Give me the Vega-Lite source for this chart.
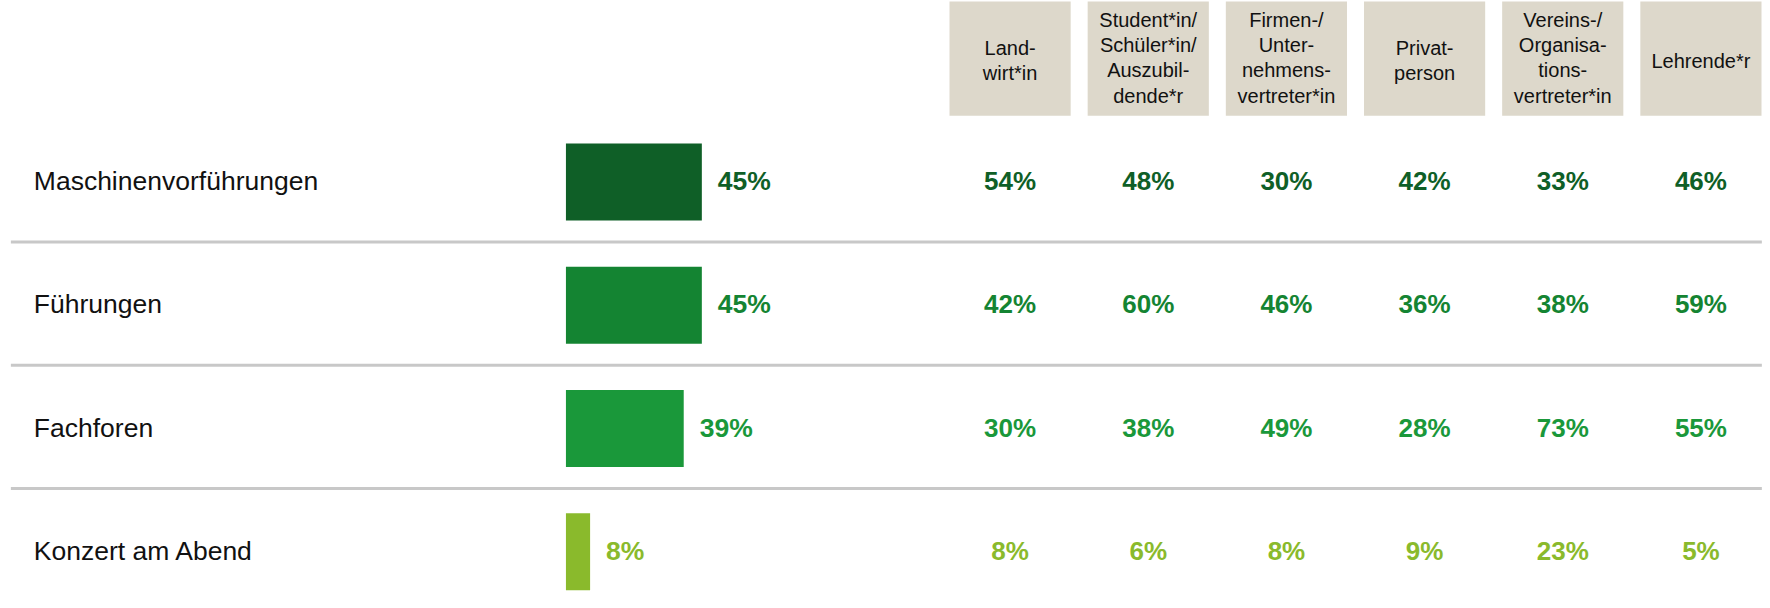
{
  "$schema": "https://vega.github.io/schema/vega-lite/v6.json",
  "width": 1770,
  "height": 608,
  "autosize": {"type": "fit", "contains": "padding"},
  "padding": 0,
  "background": "white",
  "config": {"view": {"stroke": null}, "font": "Liberation Sans"},
  "datasets": {
    "gesamt": [
      {"zeile": "Maschinenvorführungen", "wert": 45},
      {"zeile": "Führungen", "wert": 45},
      {"zeile": "Fachforen", "wert": 39},
      {"zeile": "Konzert am Abend", "wert": 8}
    ],
    "trenner": [
      {"zeile": "Maschinenvorführungen"},
      {"zeile": "Führungen"},
      {"zeile": "Fachforen"}
    ],
    "kopf": [
      {"zeile": "Kopf", "gruppe": "Landwirt", "label": "Land-\nwirt*in"},
      {"zeile": "Kopf", "gruppe": "Student", "label": "Student*in/\nSchüler*in/\nAuszubil-\ndende*r"},
      {"zeile": "Kopf", "gruppe": "Firmen", "label": "Firmen-/\nUnter-\nnehmens-\nvertreter*in"},
      {"zeile": "Kopf", "gruppe": "Privat", "label": "Privat-\nperson"},
      {"zeile": "Kopf", "gruppe": "Vereins", "label": "Vereins-/\nOrganisa-\ntions-\nvertreter*in"},
      {"zeile": "Kopf", "gruppe": "Lehrende", "label": "Lehrende*r"}
    ],
    "gruppen": [
      {"zeile": "Maschinenvorführungen", "gruppe": "Landwirt", "wert": 54},
      {"zeile": "Maschinenvorführungen", "gruppe": "Student", "wert": 48},
      {"zeile": "Maschinenvorführungen", "gruppe": "Firmen", "wert": 30},
      {"zeile": "Maschinenvorführungen", "gruppe": "Privat", "wert": 42},
      {"zeile": "Maschinenvorführungen", "gruppe": "Vereins", "wert": 33},
      {"zeile": "Maschinenvorführungen", "gruppe": "Lehrende", "wert": 46},
      {"zeile": "Führungen", "gruppe": "Landwirt", "wert": 42},
      {"zeile": "Führungen", "gruppe": "Student", "wert": 60},
      {"zeile": "Führungen", "gruppe": "Firmen", "wert": 46},
      {"zeile": "Führungen", "gruppe": "Privat", "wert": 36},
      {"zeile": "Führungen", "gruppe": "Vereins", "wert": 38},
      {"zeile": "Führungen", "gruppe": "Lehrende", "wert": 59},
      {"zeile": "Fachforen", "gruppe": "Landwirt", "wert": 30},
      {"zeile": "Fachforen", "gruppe": "Student", "wert": 38},
      {"zeile": "Fachforen", "gruppe": "Firmen", "wert": 49},
      {"zeile": "Fachforen", "gruppe": "Privat", "wert": 28},
      {"zeile": "Fachforen", "gruppe": "Vereins", "wert": 73},
      {"zeile": "Fachforen", "gruppe": "Lehrende", "wert": 55},
      {"zeile": "Konzert am Abend", "gruppe": "Landwirt", "wert": 8},
      {"zeile": "Konzert am Abend", "gruppe": "Student", "wert": 6},
      {"zeile": "Konzert am Abend", "gruppe": "Firmen", "wert": 8},
      {"zeile": "Konzert am Abend", "gruppe": "Privat", "wert": 9},
      {"zeile": "Konzert am Abend", "gruppe": "Vereins", "wert": 23},
      {"zeile": "Konzert am Abend", "gruppe": "Lehrende", "wert": 5}
    ]
  },
  "resolve": {"scale": {"x": "independent"}},
  "layer": [
    {
      "layer": [
        {
          "data": {"name": "trenner"},
          "mark": {"type": "rule", "stroke": "#C8C8C8", "strokeWidth": 3},
          "encoding": {
            "y": {"field": "zeile", "type": "nominal", "bandPosition": 1.026, "axis": null,
              "scale": {"domain": ["Kopf", "Maschinenvorführungen", "Führungen", "Fachforen", "Konzert am Abend"], "range": [-3, 613.5], "paddingInner": 0.075, "paddingOuter": 0.0375}},
            "x": {"datum": -183.8, "type": "quantitative", "axis": null, "scale": {"domain": [-187.4, 398.7], "nice": false, "zero": false}},
            "x2": {"datum": 396.0}
          }
        },
        {
          "data": {"name": "gesamt"},
          "mark": {"type": "bar", "height": 77, "orient": "horizontal"},
          "encoding": {
            "y": {"field": "zeile", "type": "nominal", "axis": null},
            "x": {"field": "wert", "type": "quantitative", "axis": null},
            "color": {"field": "zeile", "type": "nominal", "legend": null,
              "scale": {"domain": ["Maschinenvorführungen", "Führungen", "Fachforen", "Konzert am Abend"], "range": ["#0F5F27", "#148432", "#1A983A", "#8ABA2C"]}}
          }
        },
        {
          "data": {"name": "gesamt"},
          "transform": [{"calculate": "datum.wert + '%'", "as": "txt"}],
          "mark": {"type": "text", "align": "left", "baseline": "middle", "dx": 16, "fontSize": 26.5, "fontWeight": "bold"},
          "encoding": {
            "y": {"field": "zeile", "type": "nominal", "axis": null},
            "x": {"field": "wert", "type": "quantitative", "axis": null},
            "text": {"field": "txt"},
            "color": {"field": "zeile", "type": "nominal", "legend": null}
          }
        },
        {
          "data": {"name": "gesamt"},
          "mark": {"type": "text", "align": "left", "baseline": "middle", "fontSize": 26.5, "color": "#111111"},
          "encoding": {
            "y": {"field": "zeile", "type": "nominal", "axis": null},
            "x": {"datum": -176.2, "type": "quantitative"},
            "text": {"field": "zeile"}
          }
        }
      ]
    },
    {
      "layer": [
        {
          "data": {"name": "kopf"},
          "mark": {"type": "rect", "color": "#DDD8CB"},
          "encoding": {
            "y": {"field": "zeile", "type": "nominal", "axis": null},
            "x": {"field": "gruppe", "type": "nominal", "axis": null,
              "scale": {"domain": ["Landwirt", "Student", "Firmen", "Privat", "Vereins", "Lehrende"], "range": [949.5, 1761.5], "paddingInner": 0.123, "paddingOuter": 0}}
          }
        },
        {
          "data": {"name": "kopf"},
          "transform": [{"filter": "length(split(datum.label, '\\n')) == 1"}],
          "mark": {"type": "text", "align": "center", "baseline": "middle", "fontSize": 20, "dy": 3, "color": "#111111"},
          "encoding": {
            "y": {"field": "zeile", "type": "nominal", "axis": null},
            "x": {"field": "gruppe", "type": "nominal", "axis": null},
            "text": {"field": "label"}
          }
        },
        {
          "data": {"name": "kopf"},
          "transform": [{"filter": "length(split(datum.label, '\\n')) == 2"}],
          "mark": {"type": "text", "align": "center", "baseline": "middle", "fontSize": 20, "lineHeight": 25.3, "lineBreak": "\n", "dy": -9.5, "color": "#111111"},
          "encoding": {
            "y": {"field": "zeile", "type": "nominal", "axis": null},
            "x": {"field": "gruppe", "type": "nominal", "axis": null},
            "text": {"field": "label"}
          }
        },
        {
          "data": {"name": "kopf"},
          "transform": [{"filter": "length(split(datum.label, '\\n')) == 4"}],
          "mark": {"type": "text", "align": "center", "baseline": "middle", "fontSize": 20, "lineHeight": 25.3, "lineBreak": "\n", "dy": -38, "color": "#111111"},
          "encoding": {
            "y": {"field": "zeile", "type": "nominal", "axis": null},
            "x": {"field": "gruppe", "type": "nominal", "axis": null},
            "text": {"field": "label"}
          }
        },
        {
          "data": {"name": "gruppen"},
          "transform": [{"calculate": "datum.wert + '%'", "as": "txt"}],
          "mark": {"type": "text", "align": "center", "baseline": "middle", "fontSize": 26, "fontWeight": "bold"},
          "encoding": {
            "y": {"field": "zeile", "type": "nominal", "axis": null},
            "x": {"field": "gruppe", "type": "nominal", "axis": null},
            "text": {"field": "txt"},
            "color": {"field": "zeile", "type": "nominal", "legend": null}
          }
        }
      ]
    }
  ]
}
